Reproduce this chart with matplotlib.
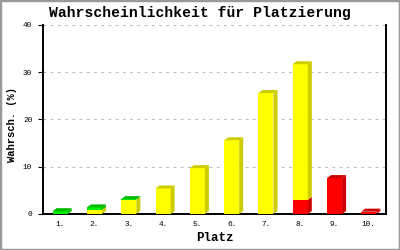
import numpy as np
import matplotlib
matplotlib.use('Agg')
import matplotlib.pyplot as plt
from matplotlib.patches import Polygon, Rectangle

# ── data ──
places = ['1.', '2.', '3.', '4.', '5.', '6.', '7.', '8.', '9.', '10.']
red    = [0.0, 0.0, 0.0, 0.0, 0.0, 0.0, 0.0, 3.0, 7.6, 0.5]
yellow = [0.0, 0.9, 3.0, 5.4, 9.7, 15.6, 25.6, 28.7, 0.0, 0.0]
green  = [0.6, 0.5, 0.15, 0.0, 0.0, 0.0, 0.0, 0.0, 0.0, 0.0]
yticks = [0, 10, 20, 30, 40]

series = [(red, '#FF0000', '#CC0000'),
          (yellow, '#FFFF00', '#CCCC00'),
          (green, '#00EE00', '#00BB00')]

W, H = 400, 250
fig = plt.figure(figsize=(W / 100, H / 100), dpi=100)
ax = fig.add_axes([43 / W, 36 / H, 343 / W, 189 / H])
mono = 'Liberation Mono'

ax.set_xlim(0.5, 10.5)
ax.set_ylim(0, 40)
# 3D depth in data units (4 px right, 3 px up)
dx = 4 / (343 / 10)
dy = 3 / (189 / 40)
bw = 0.44

x = np.arange(1, len(places) + 1)
tops = np.sum([s[0] for s in series], axis=0)
bottom = np.zeros(len(places))
for vals, front, dark in series:
    for i, v in enumerate(vals):
        if v <= 0:
            continue
        x0, x1 = x[i] - bw / 2, x[i] + bw / 2
        b, t = bottom[i], bottom[i] + v
        ax.add_patch(Rectangle((x0, b), bw, v, facecolor=front, edgecolor='none', zorder=3))
        ax.add_patch(Polygon([(x1, b), (x1 + dx, b + dy), (x1 + dx, t + dy), (x1, t)],
                             facecolor=dark, edgecolor='none', zorder=3))
        if np.isclose(t, tops[i]):
            ax.add_patch(Polygon([(x0, t), (x1, t), (x1 + dx, t + dy), (x0 + dx, t + dy)],
                                 facecolor=dark, edgecolor='none', zorder=3))
    bottom = bottom + np.array(vals)

ax.set_xticks(x)
ax.set_xticklabels(places, fontfamily=mono, fontsize=5.6)
ax.tick_params(axis='x', length=0, pad=5)
ax.set_yticks(yticks)
ax.set_yticklabels([str(v) for v in yticks], fontfamily=mono, fontsize=5.6)
ax.tick_params(axis='y', length=3.8, width=0.8, pad=4)
ax.yaxis.grid(True, color='#BBBBBB', linestyle=(0, (2.5, 4)), lw=0.8)
ax.set_axisbelow(True)
for s in ['left', 'right', 'bottom']:
    ax.spines[s].set_linewidth(1.4)
ax.spines['top'].set_visible(False)

fig.text(0.5, 1 - 13 / H, 'Wahrscheinlichkeit für Platzierung', fontfamily=mono,
         fontsize=10.6, fontweight='bold', ha='center', va='center')
ax.set_xlabel('Platz', fontfamily=mono, fontsize=9, fontweight='bold', labelpad=3)
fig.text(12 / W, 1 - 125 / H, 'Wahrsch. (%)', fontfamily=mono, fontsize=7.6,
         fontweight='bold', rotation=90, ha='center', va='center')

fig.patches.append(Rectangle((0, 0), 1, 1, transform=fig.transFigure, fill=False,
                             edgecolor='#999999', lw=2.5))
fig.savefig('out.png', dpi=100)
